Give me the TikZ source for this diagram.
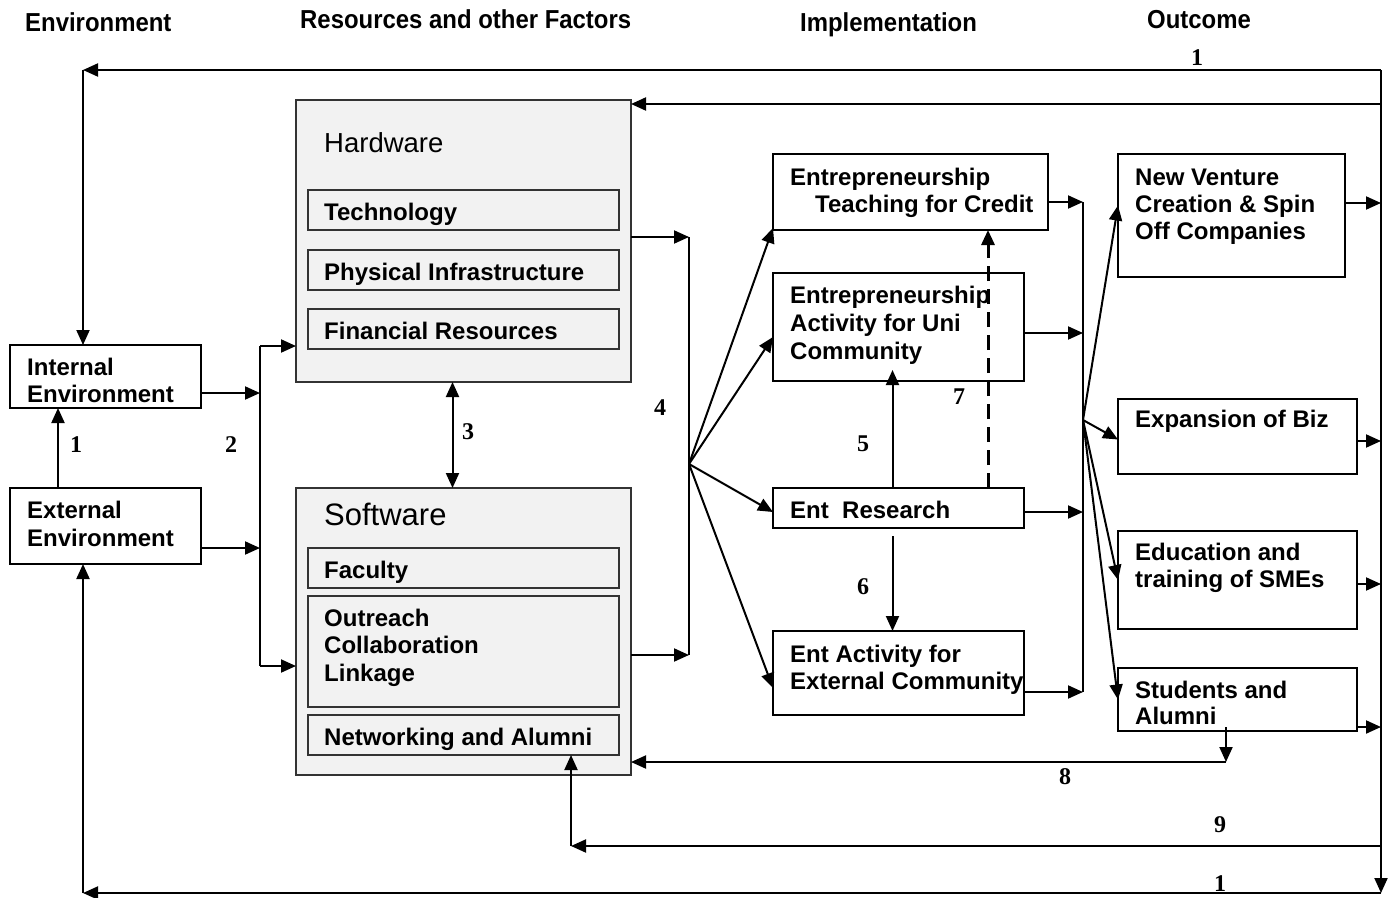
\documentclass[tikz,border=0pt]{standalone}
\usepackage{fontspec}
\setmainfont{Liberation Sans}
\newfontfamily\numfont{Liberation Serif}
\usetikzlibrary{arrows.meta}

\definecolor{boxgray}{HTML}{F2F2F2}

\tikzset{
	>={Triangle[length=15pt,width=13pt]},
	box/.style={draw, line width=1.6pt, anchor=north west, inner sep=0pt, outer sep=0pt},
	graybox/.style={box, draw=black!80, fill=boxgray},
	% multi-line labels sit on the baseline of their last line
	lbl/.style={anchor=base west, align=left, inner sep=0pt, font=\fontsize{24}{28}\selectfont\bfseries},
	head/.style={anchor=base west, inner sep=0pt, font=\fontsize{26}{28}\selectfont\bfseries},
	num/.style={inner sep=0pt, font=\numfont\fontsize{24}{26}\selectfont\bfseries},
	link/.style={line width=2pt, ->},
	wire/.style={line width=2pt},
}

\begin{document}
\begin{tikzpicture}[x=1pt,y=-1pt]
	\useasboundingbox (0,0) rectangle (1395,897);

	% column headings
	\node[head] (h-env) at (25,31)   {\scalebox{0.92}[1]{Environment}};
	\node[head] (h-res) at (300,28)  {\scalebox{0.92}[1]{Resources and other Factors}};
	\node[head] (h-imp) at (800,31)  {\scalebox{0.92}[1]{Implementation}};
	\node[head] (h-out) at (1147,28) {\scalebox{0.92}[1]{Outcome}};

	% environment
	\node[box, minimum width=191pt, minimum height=63pt] (int) at (10,345) {};
	\node[lbl, font=\fontsize{24}{27}\selectfont\bfseries] (int-t) at (27,402) {Internal\\Environment};
	\node[box, minimum width=191pt, minimum height=76pt] (ext) at (10,488) {};
	\node[lbl] (ext-t) at (27,546) {External\\Environment};

	% resources: hardware
	\node[graybox, minimum width=335pt, minimum height=282pt] (hw) at (296,100) {};
	\node[anchor=base west, inner sep=0pt, font=\fontsize{27.5}{30}\selectfont] (hw-t) at (324,152) {Hardware};
	\node[graybox, minimum width=311pt, minimum height=40pt] (tech) at (308,190) {};
	\node[graybox, minimum width=311pt, minimum height=40pt] (phys) at (308,250) {};
	\node[graybox, minimum width=311pt, minimum height=40pt] (fin)  at (308,309) {};
	\node[lbl] (tech-t) at (324,220) {Technology};
	\node[lbl] (phys-t) at (324,280) {Physical Infrastructure};
	\node[lbl] (fin-t)  at (324,339) {Financial Resources};

	% resources: software
	\node[graybox, minimum width=335pt, minimum height=287pt] (sw) at (296,488) {};
	\node[anchor=base west, inner sep=0pt, font=\fontsize{31}{34}\selectfont] (sw-t) at (324,525) {Software};
	\node[graybox, minimum width=311pt, minimum height=40pt]  (fac) at (308,548) {};
	\node[graybox, minimum width=311pt, minimum height=111pt] (outr) at (308,596) {};
	\node[graybox, minimum width=311pt, minimum height=40pt]  (net) at (308,715) {};
	\node[lbl] (fac-t)  at (324,578) {Faculty};
	\node[lbl, font=\fontsize{24}{27.5}\selectfont\bfseries] (outr-t) at (324,681) {Outreach\\Collaboration\\Linkage};
	\node[lbl] (net-t)  at (324,745) {Networking and Alumni};

	% implementation
	\node[box, minimum width=275pt, minimum height=76pt]  (teach) at (773,154) {};
	\node[lbl, font=\fontsize{24}{27}\selectfont\bfseries] (teach-t) at (790,212) {Entrepreneurship\\\hspace*{25pt}Teaching for Credit};
	\node[box, minimum width=251pt, minimum height=108pt] (uni) at (773,273) {};
	\node[lbl] (uni-t) at (790,359) {Entrepreneurship\\Activity for Uni\\Community};
	\node[box, minimum width=251pt, minimum height=40pt]  (res) at (773,488) {};
	\node[lbl] (res-t) at (790,518) {Ent\ \ Research};
	\node[box, minimum width=251pt, minimum height=84pt]  (xcom) at (773,631) {};
	\node[lbl, font=\fontsize{24}{27}\selectfont\bfseries] (xcom-t) at (790,689) {Ent Activity for\\External Community};

	% outcome
	\node[box, minimum width=227pt, minimum height=123pt] (ven) at (1118,154) {};
	\node[lbl, font=\fontsize{24}{27}\selectfont\bfseries] (ven-t) at (1135,239) {New Venture\\Creation \& Spin\\Off Companies};
	\node[box, minimum width=239pt, minimum height=75pt]  (expn) at (1118,399) {};
	\node[lbl] (expn-t) at (1135,427) {Expansion of Biz};
	\node[box, minimum width=239pt, minimum height=98pt]  (edu) at (1118,531) {};
	\node[lbl, font=\fontsize{24}{27}\selectfont\bfseries] (edu-t) at (1135,587) {Education and\\training of SMEs};
	\node[box, minimum width=239pt, minimum height=63pt]  (stu) at (1118,668) {};
	\node[lbl, font=\fontsize{24}{26}\selectfont\bfseries] (stu-t) at (1135,724) {Students and\\Alumni};

	% junctions
	\coordinate (jl-hw)  at (260,346);
	\coordinate (jl-int) at (260,393);
	\coordinate (jl-ext) at (260,548);
	\coordinate (jl-sw)  at (260,666);
	\coordinate (jm-hw)  at (689,237);
	\coordinate (jm-fan) at (689,464);
	\coordinate (jm-sw)  at (689,655);
	\coordinate (jr-teach) at (1083,202);
	\coordinate (jr-uni)   at (1083,333);
	\coordinate (jr-fan)   at (1083,420);
	\coordinate (jr-res)   at (1083,512);
	\coordinate (jr-xcom)  at (1083,692);
	\coordinate (jo-ven)  at (1381,203);
	\coordinate (jo-expn) at (1381,441);
	\coordinate (jo-edu)  at (1381,584);
	\coordinate (jo-stu)  at (1381,727);
	\coordinate (jt-left)  at (83,70);
	\coordinate (jt-right) at (1381,70);
	\coordinate (jt-hw)    at (1381,104);
	\coordinate (jb-left)  at (83,893);
	\coordinate (jb-right) at (1381,893);
	\coordinate (j8) at (1226,762);
	\coordinate (j9-right) at (1381,846);
	\coordinate (j9-left)  at (571,846);
	\coordinate (c1) at ([xshift=48pt]ext.north west);
	\coordinate (c3) at ([xshift=-11pt]hw.south);
	\coordinate (c7) at ([xshift=-60pt]teach.south east);

	% environment -> resources
	\draw[link] (c1) -- (int.south -| c1);
	\draw[link] (int.east |- jl-int) -- (jl-int);
	\draw[link] (ext.east |- jl-ext) -- (jl-ext);
	\draw[wire] (jl-hw) -- (jl-sw);
	\draw[link] (jl-hw) -- (hw.west |- jl-hw);
	\draw[link] (jl-sw) -- (sw.west |- jl-sw);
	\draw[link,<->] (c3) -- (sw.north -| c3);

	% resources -> implementation
	\draw[link] (hw.east |- jm-hw) -- (jm-hw);
	\draw[link] (sw.east |- jm-sw) -- (jm-sw);
	\draw[wire] (jm-hw) -- (jm-sw);
	\draw[link] (jm-fan) -- ([yshift=2pt]teach.south west);
	\draw[link] (jm-fan) -- ([yshift=-10pt]uni.west);
	\draw[link] (jm-fan) -- ([yshift=-4pt]res.west);
	\draw[link] (jm-fan) -- ([yshift=-15pt]xcom.west);
	\draw[link] ([xshift=-6pt]res.north) -- ([xshift=-6pt,yshift=11pt]uni.south);
	\draw[link] ([xshift=-6pt,yshift=-8pt]res.south) -- ([xshift=-6pt]xcom.north);
	\draw[link, line width=3pt, dash pattern=on 15pt off 8pt] (res.north -| c7) -- (c7);

	% implementation -> outcome
	\draw[link] (teach.east |- jr-teach) -- (jr-teach);
	\draw[link] (uni.east |- jr-uni) -- (jr-uni);
	\draw[link] (res.east |- jr-res) -- (jr-res);
	\draw[link] (xcom.east |- jr-xcom) -- (jr-xcom);
	\draw[wire] (jr-teach) -- (jr-xcom);
	\draw[link] (jr-fan) -- ([yshift=10pt]ven.west);
	\draw[link] (jr-fan) -- ([yshift=-3pt]expn.west);
	\draw[link] (jr-fan) -- (edu.west);
	\draw[link] (jr-fan) -- (stu.west);

	% outcome -> feedback
	\draw[link] (ven.east |- jo-ven) -- (jo-ven);
	\draw[link] (expn.east |- jo-expn) -- (jo-expn);
	\draw[link] (edu.east |- jo-edu) -- (jo-edu);
	\draw[link] (stu.east |- jo-stu) -- (jo-stu);
	\draw[link] (jt-right) -- (jb-right);
	\draw[link] (jt-right) -- (jt-left);
	\draw[link] (jt-left) -- (int.north -| jt-left);
	\draw[link] (jt-hw) -- (hw.east |- jt-hw);
	\draw[link] (jb-right) -- (jb-left);
	\draw[link] (jb-left) -- (ext.south -| jb-left);
	\draw[link] ([yshift=4pt]stu.south -| j8) -- (j8);
	\draw[link] (j8) -- (sw.east |- j8);
	\draw[link] (j9-right) -- (j9-left);
	\draw[link] (j9-left) -- (net.south -| j9-left);

	% path numbers
	\node[num] (n1a) at (76,445)   {1};
	\node[num] (n1b) at (1197,58)  {1};
	\node[num] (n1c) at (1220,884) {1};
	\node[num] (n2)  at (231,445)  {2};
	\node[num] (n3)  at (468,432)  {3};
	\node[num] (n4)  at (660,408)  {4};
	\node[num] (n5)  at (863,444)  {5};
	\node[num] (n6)  at (863,587)  {6};
	\node[num] (n7)  at (959,397)  {7};
	\node[num] (n8)  at (1065,777) {8};
	\node[num] (n9)  at (1220,825) {9};
\end{tikzpicture}
\end{document}
